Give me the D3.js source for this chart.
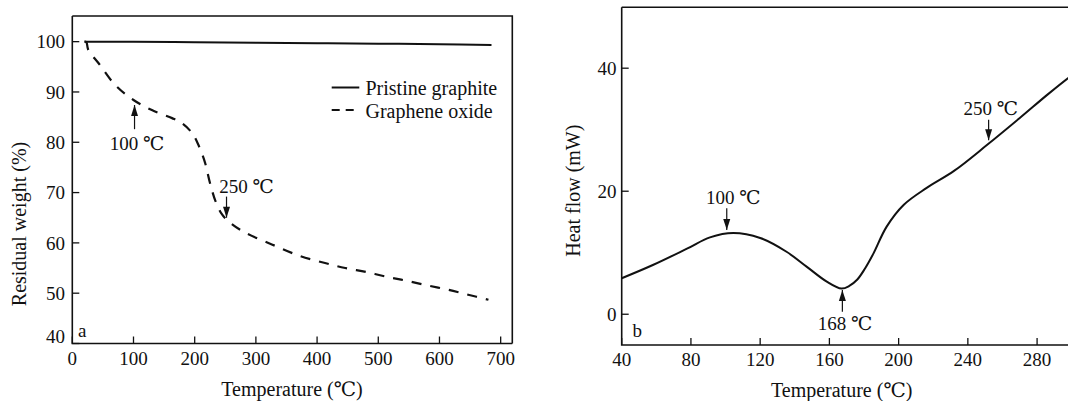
<!DOCTYPE html>
<html><head><meta charset="utf-8">
<script src="https://cdn.jsdelivr.net/npm/d3@7"></script>
<style>
html,body{margin:0;padding:0;background:#fff;}
</style></head>
<body>
<svg id="c" width="1068" height="401" font-family="'Liberation Serif','Times New Roman','DejaVu Serif',serif"></svg>
<script>
// ---- Panel a data ----
const graphiteT = [20, 100, 200, 300, 400, 500, 600, 685];
const graphiteW = [100.0, 100.0, 99.9, 99.8, 99.7, 99.6, 99.5, 99.35];
const goT = [20, 23, 26, 43, 70, 100, 130, 163, 179, 196, 206, 217, 225, 234, 245, 258, 283, 326, 372, 413, 446, 481, 516, 549, 582, 614, 647, 680];
const goW = [100, 99.9, 98.4, 95.7, 91.4, 88.4, 86.4, 84.8, 83.8, 81.8, 79.5, 75.9, 71.9, 68.3, 65.6, 64.0, 62.0, 59.7, 57.4, 56.0, 55.0, 54.2, 53.2, 52.4, 51.5, 50.7, 49.7, 48.7];
const aXTicks = [0, 100, 200, 300, 400, 500, 600, 700];
const aYTicks = [40, 50, 60, 70, 80, 90, 100];
const legendLabels = ["Pristine graphite", "Graphene oxide"];

// ---- Panel b data ----
const dscT = [40, 58, 78, 91, 104.5, 120, 135, 147, 158.5, 167, 171.5, 176, 180.5, 185.5, 193, 203, 216, 232, 251, 270, 286, 298, 300];
const dscH = [5.85, 8.0, 10.7, 12.5, 13.2, 12.4, 10.2, 7.7, 5.3, 4.17, 4.6, 5.6, 7.4, 9.9, 14.2, 17.8, 20.5, 23.3, 27.5, 31.9, 35.7, 38.4, 38.8];
const bXTicks = [40, 80, 120, 160, 200, 240, 280];
const bYTicks = [0, 20, 40];

const FONT = "'Liberation Serif','Times New Roman','DejaVu Serif',serif";
const svg = d3.select("#c");
const CEL = "\u2103";

function txt(g, x, y, s, size) {
  return g.append("text").attr("x", x).attr("y", y).attr("font-family", FONT).attr("font-size", size).attr("fill", "#111").text(s);
}

function frame(g, x, y, xt, yt, closeRight) {
  const [x0, x1] = x.range(), [y0, y1] = y.range();
  g.append("path").attr("d", `M${x0},${y1}V${y0}H${x1}`).attr("fill","none").attr("stroke","#111").attr("stroke-width",1.6);
  g.append("path").attr("d", `M${x0},${y1}H${x1}` + (closeRight ? `V${y0}` : "")).attr("fill","none").attr("stroke","#111").attr("stroke-width",1.6);
  xt.forEach(t => {
    g.append("line").attr("x1", x(t)).attr("x2", x(t)).attr("y1", y0).attr("y2", y0 - 7).attr("stroke","#111").attr("stroke-width",1.3);
    txt(g, x(t), y0 + 21, t, 19).attr("text-anchor","middle");
  });
  yt.forEach(t => {
    g.append("line").attr("x1", x0).attr("x2", x0 + 7).attr("y1", y(t)).attr("y2", y(t)).attr("stroke","#111").attr("stroke-width",1.3);
  });
}

function arrow(g, x, y1, y2) {
  g.append("line").attr("x1", x).attr("x2", x).attr("y1", y1).attr("y2", y2).attr("stroke","#111").attr("stroke-width",1.2);
  const d = y2 > y1 ? 1 : -1;
  g.append("path").attr("d", `M${x},${y2}L${x-3.5},${y2 - d*11}L${x+3.5},${y2 - d*11}Z`).attr("fill","#111");
}

// ===== Panel a =====
const xa = d3.scaleLinear().domain([0, 719]).range([72.3, 512.3]);
const ya = d3.scaleLinear().domain([40, 105.1]).range([343.5, 16]);
const ga = svg.append("g");
frame(ga, xa, ya, aXTicks, aYTicks, true);
aYTicks.forEach(t => txt(ga, 65, Math.min(ya(t), 336.5), t, 19).attr("dy","0.35em").attr("text-anchor","end"));

const lineA = d3.line().x(d => xa(d[0])).y(d => ya(d[1])).curve(d3.curveCatmullRom.alpha(0.5));
ga.append("path").datum(d3.zip(graphiteT, graphiteW)).attr("d", lineA).attr("fill","none").attr("stroke","#111").attr("stroke-width",2);
ga.append("path").datum(d3.zip(goT, goW)).attr("d", lineA).attr("fill","none").attr("stroke","#111").attr("stroke-width",2.2).attr("stroke-dasharray","10,9");

// legend
ga.append("line").attr("x1",331.7).attr("x2",359.3).attr("y1",87.5).attr("y2",87.5).attr("stroke","#111").attr("stroke-width",2);
ga.append("line").attr("x1",331.7).attr("x2",359.3).attr("y1",110).attr("y2",110).attr("stroke","#111").attr("stroke-width",2.2).attr("stroke-dasharray","8,6");
txt(ga, 365.5, 87.5, legendLabels[0], 20).attr("dy","0.35em");
txt(ga, 365.5, 110.5, legendLabels[1], 20).attr("dy","0.35em");

// annotations a
arrow(ga, xa(101.7), ya(82.6), ya(87.4));
txt(ga, xa(61.3), ya(78.5), "100 " + CEL, 19);
arrow(ga, xa(252), ya(69.2), ya(65.0));
txt(ga, xa(240), ya(70.0), "250 " + CEL, 19);
txt(ga, 78, 336.5, "a", 19);

txt(ga, 292, 389, "Temperature (" + CEL + ")", 20).attr("dy","0.35em").attr("text-anchor","middle");
txt(ga, 0, 0, "Residual weight (%)", 20).attr("transform","translate(18.5,224) rotate(-90)").attr("dy","0.35em").attr("text-anchor","middle");

// ===== Panel b =====
const xb = d3.scaleLinear().domain([40, 300]).range([621.7, 1071.7]);
const yb = d3.scaleLinear().domain([-5, 49.9]).range([345, 7.3]);
const gb = svg.append("g");
frame(gb, xb, yb, bXTicks, bYTicks, false);
bYTicks.forEach(t => txt(gb, 616.5, yb(t), t, 19).attr("dy","0.35em").attr("text-anchor","end"));

const lineB = d3.line().x(d => xb(d[0])).y(d => yb(d[1])).curve(d3.curveCatmullRom.alpha(0.5));
gb.append("path").datum(d3.zip(dscT, dscH)).attr("d", lineB).attr("fill","none").attr("stroke","#111").attr("stroke-width",2);

arrow(gb, xb(100.7), yb(17.25), yb(13.7));
txt(gb, xb(88.7), yb(17.9), "100 " + CEL, 19);
arrow(gb, xb(167.5), yb(0.4), yb(3.95));
txt(gb, xb(153.3), yb(-2.55), "168 " + CEL, 19);
arrow(gb, xb(252), yb(31.6), yb(28.3));
txt(gb, xb(237.5), yb(32.4), "250 " + CEL, 19);
txt(gb, 632.5, 336.5, "b", 19);

txt(gb, 841.7, 390, "Temperature (" + CEL + ")", 20).attr("dy","0.35em").attr("text-anchor","middle");
txt(gb, 0, 0, "Heat flow (mW)", 20).attr("transform","translate(573.3,190.7) rotate(-90)").attr("dy","0.35em").attr("text-anchor","middle");
</script>
</body></html>
